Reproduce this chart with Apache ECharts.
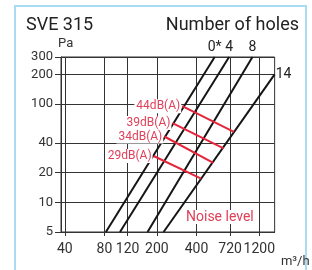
<!DOCTYPE html>
<html>
<head>
<meta charset="utf-8">
<script src="https://cdn.jsdelivr.net/npm/echarts@6/dist/echarts.min.js"></script>
<style>
  html, body { margin: 0; padding: 0; background: #fff; }
  #chart { width: 312px; height: 270px; }
</style>
</head>
<body>
<div id="chart"></div>
<script>
// airflow (m3/h) ticks and pressure (Pa) ticks
var flowTicks = [40, 80, 120, 200, 400, 720, 1200];
var paTicks = [5, 10, 20, 40, 100, 200, 300];

// pressure curves, one per number of holes: [flow, Pa] end points
var holeNames = ['0*', '4', '8', '14'];
var holeLines = [
	[[82, 5], [550, 300]],
	[[105, 5], [708, 300]],
	[[170, 5], [1065, 300]],
	[[225, 5], [1570, 200]]
];

// noise level lines
var noiseNames = ['44dB(A)', '39dB(A)', '34dB(A)', '29dB(A)'];
var noiseLines = [
	[[312, 95], [770, 52]],
	[[263, 64], [643, 35.4]],
	[[228, 46.7], [537, 25.2]],
	[[189, 29.6], [434, 17.4]]
];

var myChart = echarts.init(document.getElementById('chart'));

var series = [];
holeLines.forEach(function(pts, i) {
	var last = pts[pts.length - 1];
	series.push({
		name: holeNames[i],
		type: 'line',
		symbol: 'circle',
		symbolSize: 0.1,
		lineStyle: { color: '#151515', width: 2 },
		itemStyle: { color: '#151515' },
		data: [pts[0], {
			value: last,
			label: {
				show: true,
				position: i == 3 ? 'right' : 'top',
				distance: i == 3 ? 1 : 2,
				formatter: holeNames[i],
				color: '#222',
				fontSize: 14,
				fontFamily: 'Roboto'
			}
		}]
	});
});
noiseLines.forEach(function(pts, i) {
	series.push({
		name: noiseNames[i],
		type: 'line',
		symbol: 'circle',
		symbolSize: 0.1,
		lineStyle: { color: '#e5263a', width: 2 },
		itemStyle: { color: '#e5263a' },
		z: 3,
		data: [{
			value: pts[0],
			label: {
				show: true,
				position: 'left',
				distance: 1,
				formatter: noiseNames[i],
				color: '#e0405a',
				fontSize: 12,
				fontFamily: 'Roboto',
				backgroundColor: '#fff',
				padding: [1, 1, 1, 2]
			}
		}, pts[1]]
	});
});

var option = {
	animation: false,
	title: [
		{ text: 'SVE 315', left: 21, top: 11, textStyle: { fontSize: 18, fontWeight: 'normal', color: '#222', fontFamily: 'Roboto' } },
		{ text: 'Number of holes', right: 8, top: 11, textStyle: { fontSize: 18, fontWeight: 'normal', color: '#222', fontFamily: 'Roboto' } }
	],
	graphic: [
		{ type: 'polyline', shape: { points: [[15, 280], [15, 6], [306, 6], [306, 280]] }, style: { stroke: '#a9dcf2', lineWidth: 2, fill: null } },
		{ type: 'text', left: 185, top: 210, z: 100, style: { text: 'Noise level', fill: '#e0405a', fontSize: 14, fontFamily: 'Roboto', backgroundColor: '#fff', padding: [0, 1] } }
	],
	grid: {
		left: 61, right: 29, top: 57, bottom: 38,
		show: true, borderColor: '#333', borderWidth: 1
	},
	xAxis: {
		type: 'log',
		min: 37.4,
		max: 1570,
		name: 'm³/h',
		nameLocation: 'end',
		nameGap: 20,
		nameTextStyle: { align: 'right', verticalAlign: 'top', padding: [23, 0, 0, 0], color: '#333', fontSize: 13, fontFamily: 'Roboto' },
		axisLine: { lineStyle: { color: '#333' } },
		axisTick: { customValues: flowTicks, length: 4, lineStyle: { color: '#333' } },
		axisLabel: { customValues: flowTicks, margin: 10, color: '#333', fontSize: 14, fontFamily: 'Roboto',
			formatter: function(v) { return String(Math.round(v)); } },
		splitLine: { show: true, lineStyle: { color: '#333', width: 1 } }
	},
	yAxis: {
		type: 'log',
		min: 5,
		max: 300,
		name: 'Pa',
		nameLocation: 'end',
		nameGap: 2,
		nameTextStyle: { align: 'left', verticalAlign: 'bottom', padding: [0, 0, 0, -3], color: '#333', fontSize: 13, fontFamily: 'Roboto' },
		axisLine: { show: true, lineStyle: { color: '#333' } },
		axisTick: { customValues: paTicks, length: 6, lineStyle: { color: '#333' } },
		axisLabel: { customValues: paTicks, margin: 8, color: '#333', fontSize: 13, fontFamily: 'Roboto',
			formatter: function(v) { return String(Math.round(v)); } },
		splitLine: { show: true, lineStyle: { color: '#333', width: 1 } }
	},
	series: series
};
myChart.setOption(option);

window.onresize = function() {
	myChart.resize();
}
</script>
</body>
</html>
